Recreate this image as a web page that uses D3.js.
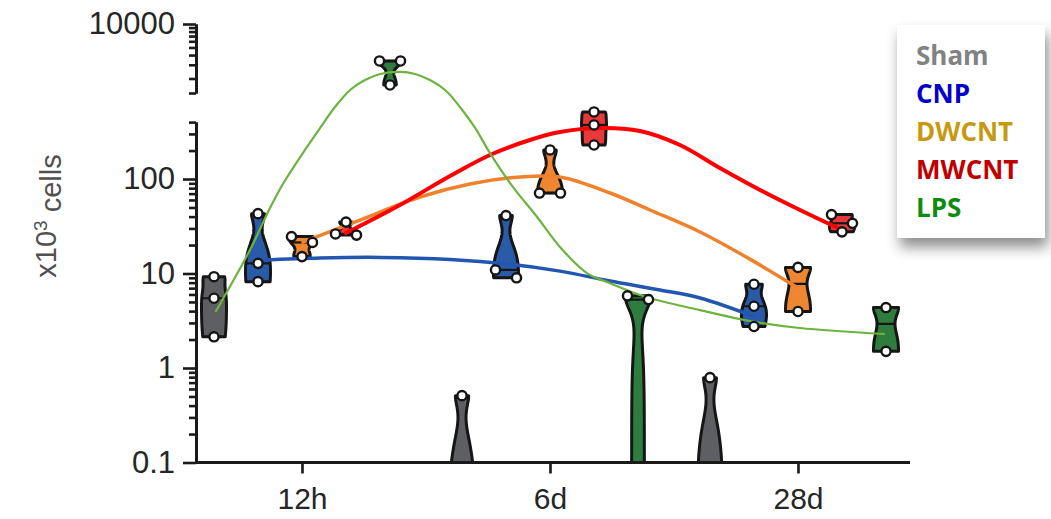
<!DOCTYPE html>
<html>
<head>
<meta charset="utf-8">
<script src="https://d3js.org/d3.v7.min.js"></script>
<style>
  html, body { margin: 0; padding: 0; background: #ffffff; }
  svg { display: block; }
</style>
</head>
<body>
<svg id="chart" width="1051" height="519"></svg>
<script>
// ---------------- data ----------------
const timepoints = ["12h", "6d", "28d"];
const groups = ["Sham", "CNP", "DWCNT", "MWCNT", "LPS"];

// cells (x10^3) per animal, one inner list per time point; 0 = none detected
const shamCells  = [[9.25, 5.47, 2.14], [0.51, 0, 0], [0.79, 0, 0]];
const cnpCells   = [[43, 12.8, 8.2], [41, 10.9, 9.0], [7.7, 4.5, 2.75]];
const dwcntCells = [[24.6, 21.3, 15.1], [203, 71, 71], [11.6, 3.96]];
const mwcntCells = [[35, 25.5, 26.2], [512, 373, 229], [42, 34, 27.6]];
const lpsCells   = [[3357, 3357, 1652], [5.8, 5.3, 0], [4.36, 1.5]];

// fitted time-course curves: [position on time axis (0 = 12h, 1 = 6d, 2 = 28d), cells]
const cnpFit = [[-0.161, 13.9], [0.073, 14.6], [0.315, 14.8], [0.597, 14.1], [0.831, 12.6],
  [1.040, 10.6], [1.242, 8.33], [1.444, 6.69], [1.605, 5.50], [1.827, 3.47]];
const dwcntFit = [[0.004, 21.5], [0.234, 36.8], [0.476, 64.5], [0.677, 88.6], [0.879, 105],
  [1.040, 105], [1.242, 71.1], [1.403, 47], [1.605, 27.5], [1.806, 14.2], [2.0, 7.03]];
const mwcntFit = [[0.177, 26.8], [0.395, 53.1], [0.597, 107.6], [0.758, 179.6], [0.919, 258.6],
  [1.040, 314], [1.202, 346.5], [1.363, 322], [1.524, 229], [1.685, 130.7], [1.847, 76.5],
  [2.008, 47], [2.161, 30.3]];
const lpsFit = [[-0.347, 4.0], [-0.210, 17.7], [-0.137, 44.8], [-0.077, 88.5], [0.012, 203],
  [0.073, 347], [0.133, 578], [0.194, 1426], [0.254, 1914], [0.315, 2287], [0.395, 2427],
  [0.456, 2287], [0.516, 1914], [0.577, 1426], [0.637, 578], [0.698, 347], [0.758, 188],
  [0.851, 82], [0.948, 39.6], [1.040, 19.1], [1.149, 10.1], [1.242, 7.9], [1.391, 5.6],
  [1.605, 4.1], [1.806, 3.14], [2.008, 2.65], [2.347, 2.29]];

// y-axis labels
const yTickValues = [0.1, 1, 10, 100, 10000];
const yTickLabels = ["0.1", "1", "10", "100", "10000"];

// ---------------- layout ----------------
const W = 1051, H = 519;
const axisX = 196, axisRight = 910, axisY = 462.5;
const decadePx = 94.5;
const lowerTop = 400;          // end of the lower axis segment
const lowerReach = 600;        // lower scale still applies up to here
const upperTopY = 24, upperBottomY = 93, upperDecadePx = 78;

const yLower = d3.scaleLog().domain([0.1, lowerTop])
  .range([axisY, axisY - decadePx * Math.log10(lowerTop / 0.1)]);
const yUpperFull = d3.scaleLog().domain([1000, 10000])
  .range([upperTopY + upperDecadePx, upperTopY]);
const upperBottom = yUpperFull.invert(upperBottomY);
const yUpper = d3.scaleLog().domain([upperBottom, 10000]).range([upperBottomY, upperTopY]);
// continuous mapping across the axis break, used for every mark
const y = d3.scaleLog()
  .domain([0.1, lowerReach, upperBottom, 10000])
  .range([axisY, yLower(lowerReach), upperBottomY, upperTopY]);

const xTime = d3.scalePoint().domain(timepoints).range([302, 798]);
const xGroup = d3.scalePoint().domain(groups).range([-88, 88]);
const xCourse = d3.scaleLinear().domain([0, timepoints.length - 1]).range(xTime.range());

const violinFill = d3.scaleOrdinal().domain(groups)
  .range(["#5e5f63", "#2a5ba8", "#ef8632", "#e8393a", "#2e7c3e"]);
const curveColor = d3.scaleOrdinal().domain(groups)
  .range(["#777777", "#2157b0", "#f0822d", "#ff0000", "#6db33f"]);
const curveWidth = d3.scaleOrdinal().domain(groups).range([2, 3.5, 3.5, 4, 2.2]);
const legendColor = d3.scaleOrdinal().domain(groups)
  .range(["#828282", "#0000c8", "#c69a10", "#c00000", "#0e8c0e"]);

const cellsByGroup = { Sham: shamCells, CNP: cnpCells, DWCNT: dwcntCells, MWCNT: mwcntCells, LPS: lpsCells };
const fits = [["CNP", cnpFit], ["DWCNT", dwcntFit], ["MWCNT", mwcntFit], ["LPS", lpsFit]];

const table = [];
groups.forEach(g => timepoints.forEach((t, i) => {
  table.push({ group: g, time: t, values: cellsByGroup[g][i], cx: xTime(t) + xGroup(g) });
}));

const svg = d3.select("#chart");
const defs = svg.append("defs");
defs.append("clipPath").attr("id", "plotClip")
  .append("rect").attr("x", 0).attr("y", 0).attr("width", W).attr("height", axisY);
const shadow = defs.append("filter").attr("id", "legendShadow")
  .attr("x", "-30%").attr("y", "-30%").attr("width", "170%").attr("height", "170%");
shadow.append("feDropShadow").attr("dx", 3).attr("dy", 9).attr("stdDeviation", 7)
  .attr("flood-color", "#000").attr("flood-opacity", 0.45);

// ---------------- violins ----------------
const halfMax = 12.5, halfMin = 1.6, floorValue = 0.05;
function violinProfile(vals) {
  const bw = 0.5 * d3.deviation(vals);
  const pos = vals.filter(v => v > 0);
  const lo = vals.some(v => v <= 0) ? floorValue : d3.min(pos);
  const hi = d3.max(pos);
  const n = 90;
  const prof = d3.range(n + 1).map(i => {
    const v = Math.pow(10, Math.log10(lo) + (Math.log10(hi) - Math.log10(lo)) * i / n);
    const dens = d3.sum(vals, s => Math.exp(-0.5 * ((v - s) / bw) ** 2));
    return { v, dens };
  });
  const m = d3.max(prof, p => p.dens);
  prof.forEach(p => { p.w = Math.max(halfMin, halfMax * p.dens / m); });
  return prof;
}

const violinLayer = svg.append("g").attr("clip-path", "url(#plotClip)");
table.forEach(d => {
  const prof = violinProfile(d.values);
  const area = d3.area()
    .y(p => y(p.v)).x0(p => d.cx - p.w).x1(p => d.cx + p.w)
    .curve(d3.curveLinear);
  violinLayer.append("path").attr("d", area(prof))
    .attr("fill", violinFill(d.group)).attr("stroke", "#161616")
    .attr("stroke-width", 3).attr("stroke-linejoin", "round");
  const med = d3.median(d.values);
  if (med > 0) {
    const idx = d3.bisector(p => p.v).center(prof, med);
    const w = prof[idx].w;
    violinLayer.append("line")
      .attr("x1", d.cx - w).attr("x2", d.cx + w).attr("y1", y(med)).attr("y2", y(med))
      .attr("stroke", "#161616").attr("stroke-width", 2.2);
  }
});

// ---------------- fitted curves ----------------
const line = d3.line().x(p => xCourse(p[0])).y(p => y(p[1])).curve(d3.curveCatmullRom.alpha(0.5));
const curveLayer = svg.append("g");
fits.forEach(([g, pts]) => {
  curveLayer.append("path").attr("d", line(pts)).attr("fill", "none")
    .attr("stroke", curveColor(g)).attr("stroke-width", curveWidth(g))
    .attr("stroke-linecap", "round");
});

// ---------------- individual animals ----------------
const dotStep = 10.5;
const pattern = [[0], [-1, 1], [-1, 1, 0], [-1.5, -0.5, 0.5, 1.5]];
const dotLayer = svg.append("g");
table.forEach(d => {
  const pts = d.values.filter(v => v > 0).map(v => ({ v, py: y(v) })).sort((a, b) => a.py - b.py);
  const clusters = [];
  pts.forEach(p => {
    const last = clusters[clusters.length - 1];
    if (last && p.py - last[last.length - 1].py < 11) last.push(p); else clusters.push([p]);
  });
  clusters.forEach(c => c.forEach((p, i) => { p.px = d.cx + pattern[c.length - 1][i] * dotStep; }));
  dotLayer.selectAll(null).data(pts).join("circle")
    .attr("cx", p => p.px).attr("cy", p => p.py).attr("r", 4.6)
    .attr("fill", "#ffffff").attr("stroke", "#151515").attr("stroke-width", 2.4);
});

// ---------------- axes ----------------
const fontFamily = '"Liberation Sans", Arial, Helvetica, sans-serif';
const labelOf = v => yTickLabels[yTickValues.indexOf(v)];
function styleAxis(g, size) {
  g.select(".domain").attr("stroke", "#1a1a1a").attr("stroke-width", 3);
  g.selectAll(".tick line").attr("stroke", "#1a1a1a").attr("stroke-width", 2.6);
  g.selectAll(".tick text").attr("fill", "#262626").style("font-family", fontFamily)
    .style("font-size", size + "px");
}
const axes = svg.append("g");

const lowerMinor = yLower.ticks().filter(v => !yTickValues.includes(v));
const lowerMajor = yTickValues.filter(v => v <= lowerTop);
axes.append("g").attr("transform", `translate(${axisX},0)`)
  .call(d3.axisLeft(yLower).tickValues(lowerMinor).tickSize(7).tickSizeOuter(0).tickFormat(""))
  .call(g => styleAxis(g, 31));
axes.append("g").attr("transform", `translate(${axisX},0)`)
  .call(d3.axisLeft(yLower).tickValues(lowerMajor).tickSize(13).tickSizeOuter(0).tickPadding(8).tickFormat(labelOf))
  .call(g => styleAxis(g, 31));

const upperMinor = yUpperFull.ticks().filter(v => v >= upperBottom && !yTickValues.includes(v)).concat([upperBottom]);
const upperMajor = yTickValues.filter(v => v >= upperBottom);
axes.append("g").attr("transform", `translate(${axisX},0)`)
  .call(d3.axisLeft(yUpper).tickValues(upperMinor).tickSize(7).tickSizeOuter(0).tickFormat(""))
  .call(g => styleAxis(g, 31));
axes.append("g").attr("transform", `translate(${axisX},0)`)
  .call(d3.axisLeft(yUpper).tickValues(upperMajor).tickSize(13).tickSizeOuter(0).tickPadding(8).tickFormat(labelOf))
  .call(g => styleAxis(g, 31));

const gx = axes.append("g").attr("transform", `translate(0,${axisY})`)
  .call(d3.axisBottom(xTime).tickSize(11).tickSizeOuter(0).tickPadding(14))
  .call(g => styleAxis(g, 30));
gx.select(".domain").attr("d", `M${axisX},0H${axisRight}`);

// y-axis title
const title = svg.append("text")
  .attr("transform", "translate(56,216) rotate(-90)")
  .attr("text-anchor", "middle")
  .attr("fill", "#505050")
  .style("font-family", fontFamily).style("font-size", "29px");
title.append("tspan").text("x10");
title.append("tspan").attr("dy", "-0.45em").style("font-size", "19px").text("3");
title.append("tspan").attr("dy", "0.45em").text(" cells");

// ---------------- legend ----------------
const legend = svg.append("g");
legend.append("rect").attr("x", 897).attr("y", 25).attr("width", 148).attr("height", 213)
  .attr("fill", "#ffffff").attr("filter", "url(#legendShadow)");
legend.selectAll("text").data(groups).join("text")
  .attr("x", 916).attr("y", (d, i) => 65 + i * 38)
  .attr("fill", d => legendColor(d))
  .style("font-family", '"Open Sans", "Noto Sans", sans-serif')
  .style("font-weight", 700).style("font-size", "26px")
  .text(d => d);
</script>
</body>
</html>
